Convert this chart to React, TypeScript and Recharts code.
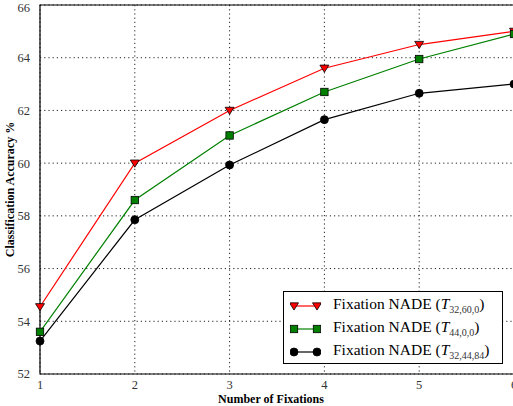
import React from "react";
import {
  CartesianGrid,
  Line,
  LineChart,
  ReferenceArea,
  XAxis,
  YAxis,
} from "recharts";

const fixations = [1, 2, 3, 4, 5, 6];
const t326000 = [54.55, 60.0, 62.0, 63.6, 64.5, 65.0];
const t4400 = [53.6, 58.6, 61.05, 62.7, 63.95, 64.9];
const t324484 = [53.25, 57.85, 59.93, 61.65, 62.65, 63.0];
const yTicks = [52, 54, 56, 58, 60, 62, 64, 66];

const data = fixations.map((x, i) => ({
  x,
  a: t326000[i],
  b: t4400[i],
  c: t324484[i],
}));

const FONT = "'Liberation Serif', 'DejaVu Serif', serif";

type Shape = "tri" | "square" | "circle";

function Marker({ cx, cy, shape, fill }: { cx: number; cy: number; shape: Shape; fill: string }) {
  if (cx == null || cy == null) return null;
  if (shape === "tri") {
    const r = 4.5;
    return (
      <path
        d={`M${cx - r},${cy - r * 0.7} L${cx + r},${cy - r * 0.7} L${cx},${cy + r * 0.9} Z`}
        fill={fill}
        stroke="#000"
        strokeWidth={0.8}
      />
    );
  }
  if (shape === "square") {
    return (
      <rect x={cx - 3.7} y={cy - 3.7} width={7.4} height={7.4} fill={fill} stroke="#000" strokeWidth={0.8} />
    );
  }
  return <circle cx={cx} cy={cy} r={4} fill={fill} stroke="#000" strokeWidth={0.8} />;
}

const series = [
  { key: "a", color: "#ff0000", shape: "tri" as Shape, sub: "32,60,0" },
  { key: "b", color: "#008000", shape: "square" as Shape, sub: "44,0,0" },
  { key: "c", color: "#000000", shape: "circle" as Shape, sub: "32,44,84" },
];

function LegendBox() {
  return (
    <div
      style={{
        position: "absolute",
        left: 283,
        top: 291,
        width: 220,
        height: 73,
        boxSizing: "border-box",
        border: "1px solid #000",
        background: "#fff",
        padding: "2px 4px 0 6px",
        fontFamily: FONT,
        fontSize: 15.5,
        color: "#000",
      }}
    >
      {series.map((s) => (
        <div key={s.key} style={{ display: "flex", alignItems: "center", height: 23 }}>
          <svg width={31} height={14} style={{ marginRight: 12, flexShrink: 0 }}>
            <line x1={4} y1={7} x2={27} y2={7} stroke={s.color} strokeWidth={1.2} />
            <Marker cx={4} cy={7} shape={s.shape} fill={s.color} />
            <Marker cx={27} cy={7} shape={s.shape} fill={s.color} />
          </svg>
          <span style={{ whiteSpace: "nowrap" }}>
            Fixation NADE (<i>T</i>
            <sub style={{ fontSize: 10, color: "#333" }}>{s.sub}</sub>)
          </span>
        </div>
      ))}
    </div>
  );
}

export default function App() {
  return (
    <div
      style={{
        position: "fixed",
        left: 0,
        top: 0,
        width: 513,
        height: 406,
        overflow: "hidden",
        background: "#fff",
      }}
    >
      <LineChart
        width={520}
        height={406}
        data={data}
        margin={{ top: 5, right: 6, bottom: 0, left: 0 }}
      >
        <CartesianGrid stroke="#222" strokeDasharray="1.2 3" />
        <XAxis
          dataKey="x"
          type="number"
          domain={[1, 6]}
          ticks={fixations}
          height={32}
          axisLine={false}
          tickLine={false}
          tick={{ fontFamily: FONT, fontSize: 12.5, fill: "#333" }}
          tickMargin={0}
          label={({ viewBox }: any) => (
            <text
              x={viewBox.x + viewBox.width / 2 - 6}
              y={viewBox.y + 29}
              textAnchor="middle"
              fontFamily={FONT}
              fontSize={12}
              fontWeight="bold"
              fill="#000"
            >
              Number of Fixations
            </text>
          )}
        />
        <YAxis
          type="number"
          domain={[52, 66]}
          ticks={yTicks}
          width={40}
          axisLine={false}
          tickLine={false}
          tick={{ fontFamily: FONT, fontSize: 12.5, fill: "#333" }}
          tickMargin={4}
          label={({ viewBox }: any) => {
            const x = 14;
            const y = viewBox.y + viewBox.height / 2;
            return (
              <text
                x={x}
                y={y}
                transform={`rotate(-90 ${x} ${y})`}
                textAnchor="middle"
                fontFamily={FONT}
                fontSize={12}
                fontWeight="bold"
                fill="#000"
              >
                Classification Accuracy %
              </text>
            );
          }}
        />
        <ReferenceArea x1={1} x2={6} y1={52} y2={66} fill="none" stroke="#000" strokeWidth={1.2} />
        {series.map((s) => (
          <Line
            key={s.key}
            dataKey={s.key}
            stroke={s.color}
            strokeWidth={1.2}
            isAnimationActive={false}
            dot={(p: any) => <Marker key={`${s.key}-${p.index}`} cx={p.cx} cy={p.cy} shape={s.shape} fill={s.color} />}
            activeDot={false}
          />
        ))}
      </LineChart>
      <LegendBox />
    </div>
  );
}
